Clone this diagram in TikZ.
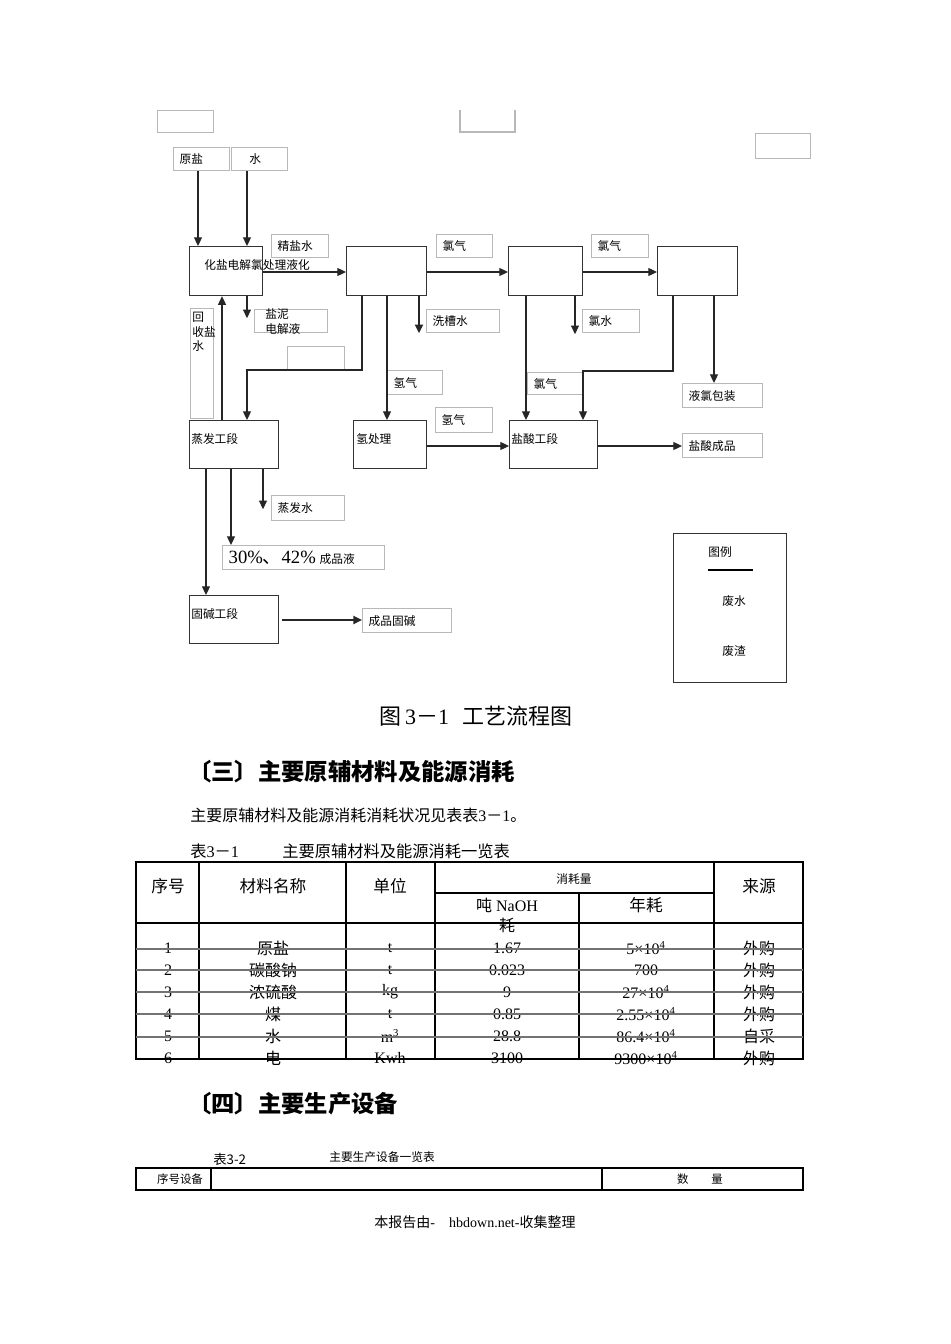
\documentclass[tikz,border=0pt]{standalone}
\usepackage{fontspec}
\setmainfont{Liberation Serif}
\newfontfamily\cjk{Noto Sans CJK SC}
\usetikzlibrary{arrows.meta}

\tikzset{
  faint/.style={draw=black!28, line width=1.1pt},
  tag/.style 2 args={faint, anchor=north west, inner xsep=4.5pt, inner ysep=0pt,
    text width={#1*0.75pt-9pt}, minimum height={#2*0.75pt}, align=left,
    font=\cjk\fontsize{8.8}{10.5}\selectfont},
  unit/.style 2 args={draw=black!80, line width=0.9pt, anchor=north west, inner sep=0pt,
    minimum width={#1*0.75pt}, minimum height={#2*0.75pt}},
  txt/.style={anchor=west, inner sep=0pt, font=\cjk\fontsize{8.8}{11}\selectfont},
  conn/.style={draw=black!85, line width=0.8pt},
  arr/.style={conn, -{Triangle[length=6.5pt,width=6pt]}},
  fat/.style={arr, line width=1.7pt},
  tline/.style={draw=black, line width=0.9pt},
  rowline/.style={draw=black!55, line width=1.2pt},
  tcell/.style={inner sep=0pt, font=\fontsize{12}{14}\selectfont},
}

\begin{document}
\begin{tikzpicture}[x=0.75pt, y=-0.75pt]
\useasboundingbox[fill=white] (0,0) rectangle (950,1344);

% empty frames at the top
\node[tag={56}{22}] (blank1) at (157,110) {};
\draw[faint] (460,110) -- (460,132) -- (515,132) -- (515,110);
\node[tag={55}{25}] (blank3) at (755,133) {};

% raw materials
\node[tag={56}{23}] (yuanyan) at (173,147) {原盐};
\node[tag={56}{23}] (shui) at (231,147) {\hspace{1em}水};

% process units
\node[unit={73}{49}] (hua) at (189,246) {};
\node[txt] (hua-t) at (204,265) {化盐电解氯处理液化};
\node[unit={80}{49}] (u2) at (346,246) {};
\node[unit={74}{49}] (u3) at (508,246) {};
\node[unit={80}{49}] (u4) at (657,246) {};
\node[unit={89}{48}] (zhengfa) at (189,420) {};
\node[txt] (zhengfa-t) at (191,439) {蒸发工段};
\node[unit={73}{48}] (qing) at (353,420) {};
\node[txt] (qing-t) at (356,439) {氢处理};
\node[unit={88}{48}] (yansuan) at (509,420) {};
\node[txt] (yansuan-t) at (511,439) {盐酸工段};
\node[unit={89}{48}] (gujian) at (189,595) {};
\node[txt] (gujian-t) at (191,614) {固碱工段};

% stream labels
\node[tag={57}{23}] (jingyan) at (271,234) {精盐水};
\node[tag={56}{23}] (lv1) at (436,234) {氯气};
\node[tag={57}{23}] (lv2) at (591,234) {氯气};
\node[tag={73}{23}] (yanni) at (254,309) {};
\node[txt, anchor=north west, align=left, font=\cjk\fontsize{8.8}{11.3}\selectfont] (yanni-t) at (265,308) {盐泥\\电解液};
\node[tag={23}{110}] (huishou) at (190,308) {};
\node[txt, anchor=north west, align=left, font=\cjk\fontsize{8.8}{10.9}\selectfont] (huishou-t) at (192,312) {回\\收盐\\水};
\node[tag={57}{23}] (blank2) at (287,346) {};
\node[tag={73}{23}] (xicao) at (426,309) {洗槽水};
\node[tag={57}{23}] (lvshui) at (582,309) {氯水};
\node[tag={55}{24}] (qq1) at (387,370) {氢气};
\node[tag={57}{25}] (qq2) at (435,407) {氢气};
\node[tag={55}{22}] (lv3) at (527,372) {氯气};
\node[tag={80}{24}] (yelv) at (682,383) {液氯包装};
\node[tag={80}{24}] (yscp) at (682,433) {盐酸成品};
\node[tag={73}{25}] (zfs) at (271,495) {蒸发水};
\node[tag={162}{24}] (cpy) at (222,545) {{\rmfamily\fontsize{14}{16}\selectfont 30\%{\cjk 、}42\%} 成品液};
\node[tag={89}{24}] (cpgj) at (362,608) {成品固碱};

% flows
\draw[arr] (yuanyan.south -| 198,0) -- (hua.north -| 198,0);
\draw[arr] (shui.south -| 247,0) -- (hua.north -| 247,0);
\draw[arr] (hua.east |- 0,272) -- (u2.west |- 0,272);
\draw[arr] (u2.east |- 0,272) -- (u3.west |- 0,272);
\draw[arr] (u3.east |- 0,272) -- (u4.west |- 0,272);
\draw[arr] (zhengfa.north -| 222,0) -- (hua.south -| 222,0);
\draw[arr] (hua.south -| 247,0) -- ++(0,22);
\draw[arr] (u2.south -| 362,0) |- (247,370) -- (zhengfa.north -| 247,0);
\draw[arr] (u2.south -| 387,0) -- (qing.north -| 387,0);
\draw[fat] (u2.south -| 419,0) -- ++(0,37);
\draw[arr] (u3.south -| 526,0) -- (yansuan.north -| 526,0);
\draw[arr] (u3.south -| 575,0) -- ++(0,38);
\draw[arr] (u4.south -| 673,0) |- (583,371) -- (yansuan.north -| 583,0);
\draw[arr] (u4.south -| 714,0) -- (yelv.north -| 714,0);
\draw[arr] (qing.east |- 0,446) -- (yansuan.west |- 0,446);
\draw[arr] (yansuan.east |- 0,446) -- (yscp.west |- 0,446);
\draw[arr] (zhengfa.south -| 206,0) -- (gujian.north -| 206,0);
\draw[arr] (zhengfa.south -| 231,0) -- (cpy.north -| 231,0);
\draw[arr] (zhengfa.south -| 263,0) -- ++(0,40);
\draw[fat] ([xshift=2pt]gujian.east |- 0,620) -- (cpgj.west |- 0,620);

% legend
\node[unit={113}{149}] (legend) at (673,533) {};
\node[txt, anchor=center] (lg-t) at (720,552) {图例};
\coordinate (lg-a) at (708,570);
\coordinate (lg-b) at (753,570);
\draw[line width=1.8pt] (lg-a) -- (lg-b);
\node[txt, anchor=center] (lg-w) at (734,601) {废水};
\node[txt, anchor=center] (lg-s) at (734,651) {废渣};

% caption and text
\node[font=\cjk\fontsize{16.5}{19}\selectfont] (cap) at (476,716) {图\,\textrm{3}－\textrm{1}\hspace{0.6em}工艺流程图};
\node[anchor=west, inner sep=0pt, font=\cjk\bfseries\fontsize{17.5}{20}\selectfont] (h3) at (188,772) {〔三〕主要原辅材料及能源消耗};
\node[anchor=west, inner sep=0pt, font=\cjk\fontsize{12}{14}\selectfont] (p1) at (190,815) {主要原辅材料及能源消耗消耗状况见表表\textrm{3}－\textrm{1}。};
\node[anchor=west, inner sep=0pt, font=\cjk\fontsize{12.2}{14}\selectfont] (t1a) at (190,851) {表\textrm{3}－\textrm{1}};
\node[anchor=west, inner sep=0pt, font=\cjk\fontsize{12.2}{14}\selectfont] (t1b) at (282,851) {主要原辅材料及能源消耗一览表};

% table 3-1
\node[tcell, font=\cjk\fontsize{12.5}{15}\selectfont] (hd1) at (168,886) {序号};
\node[tcell, font=\cjk\fontsize{12.5}{15}\selectfont] (hd2) at (273,886) {材料名称};
\node[tcell, font=\cjk\fontsize{12.5}{15}\selectfont] (hd3) at (390,886) {单位};
\node[tcell, font=\cjk\fontsize{8.8}{10}\selectfont] (hd4) at (574,879) {消耗量};
\node[tcell] (hd5) at (507,905) {{\cjk 吨} NaOH};
\node[tcell, font=\cjk\fontsize{12}{14}\selectfont] (hd6) at (507,925) {耗};
\node[tcell, font=\cjk\fontsize{12.5}{15}\selectfont] (hd7) at (646,905) {年耗};
\node[tcell, font=\cjk\fontsize{12.5}{15}\selectfont] (hd8) at (759,886) {来源};
\foreach \no/\nm/\un/\va/\vb/\src [count=\r] in {
  1/原盐/t/1.67/5×10\textsuperscript{4}/外购,
  2/碳酸钠/t/0.023/700/外购,
  3/浓硫酸/kg/9/27×10\textsuperscript{4}/外购,
  4/煤/t/0.85/2.55×10\textsuperscript{4}/外购,
  5/水/m\textsuperscript{3}/28.8/86.4×10\textsuperscript{4}/自采,
  6/电/Kwh/3100/9300×10\textsuperscript{4}/外购}{
  \node[tcell] (no\r) at (168,{926+22*\r}) {\no};
  \node[tcell] (nm\r) at (273,{926+22*\r}) {{\cjk\nm}};
  \node[tcell] (un\r) at (390,{926+22*\r}) {\un};
  \node[tcell] (va\r) at (507,{926+22*\r}) {\va};
  \node[tcell] (vb\r) at (646,{926+22*\r}) {\vb};
  \node[tcell] (src\r) at (759,{926+22*\r}) {{\cjk\src}};
}
\draw[tline] (136,862) rectangle (803,1059);
\foreach \x in {199,346,435,714}
  \draw[tline] (\x,862) -- (\x,1059);
\draw[tline] (579,893) -- (579,1059);
\draw[tline] (435,893) -- (714,893);
\draw[tline] (136,923) -- (803,923);
\foreach \y in {949,970,992,1014,1037}
  \draw[rowline] (136,\y) -- (803,\y);

% section four
\node[anchor=west, inner sep=0pt, font=\cjk\bfseries\fontsize{17.5}{20}\selectfont] (h4) at (188,1104) {〔四〕主要生产设备};
\node[anchor=west, inner sep=0pt, font=\cjk\fontsize{10}{12}\selectfont] (t2a) at (213,1159) {表3-2};
\node[anchor=west, inner sep=0pt, font=\cjk\fontsize{8.8}{10}\selectfont] (t2b) at (329,1157) {主要生产设备一览表};
\draw[tline] (136,1168) rectangle (803,1190);
\draw[tline] (211,1168) -- (211,1190);
\draw[tline] (602,1168) -- (602,1190);
\node[font=\cjk\fontsize{8.6}{10}\selectfont] (t2c) at (180,1179) {序号设备};
\node[font=\cjk\fontsize{8.6}{10}\selectfont] (t2d) at (700,1179) {数\hspace{2em}量};

% footer
\node[font=\fontsize{10.5}{12}\selectfont] (foot) at (475,1222) {{\cjk 本报告由}-\quad hbdown.net-{\cjk 收集整理}};
\end{tikzpicture}
\end{document}
